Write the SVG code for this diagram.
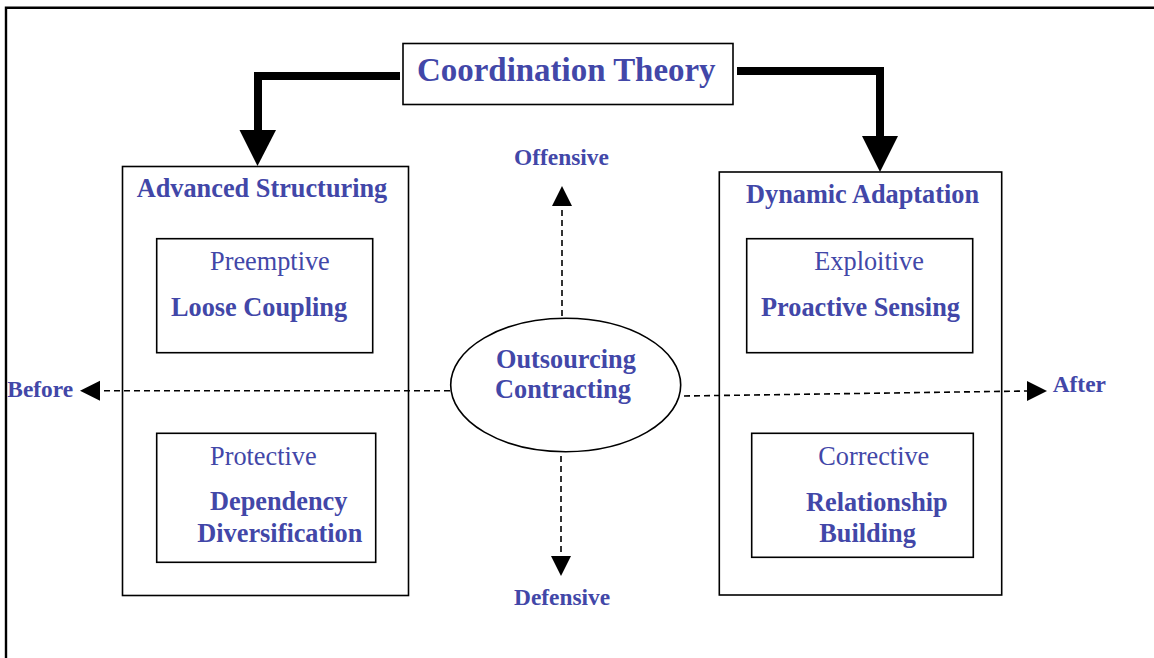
<svg xmlns="http://www.w3.org/2000/svg" width="1154" height="658" viewBox="0 0 1154 658">
<style>
.box{fill:none;stroke:#000;stroke-width:1.6}
.t{font-family:"Liberation Serif","Times New Roman",serif;fill:#4247a8}
.b{font-weight:bold}
.s{font-size:26.3px}
.l{font-size:23.4px;font-weight:bold}
.thick{fill:none;stroke:#000;stroke-width:8;stroke-linejoin:miter}
.dash{fill:none;stroke:#000;stroke-width:1.6;stroke-dasharray:6 4}
</style>
<rect width="1154" height="658" fill="#fff"/>
<path d="M6 658 V7.7 H1154" fill="none" stroke="#000" stroke-width="2.4"/>

<g id="connectors">
<path class="thick" d="M400 76 H258 V131"/>
<polygon points="239.5,130 276,130 257.5,166"/>
<path class="thick" d="M737 71 H880 V137"/>
<polygon points="862,136 898,136 880,172"/>
<path class="dash" d="M450 390.7 H100"/>
<polygon points="80,390.7 100,380.7 100,400.7"/>
<path class="dash" d="M684 396 L1027 391"/>
<polygon points="1047,391 1027,381 1027,401"/>
<path class="dash" d="M562 316 V206"/>
<polygon points="562,186 552,206 572,206"/>
<path class="dash" d="M561 456 V556"/>
<polygon points="561,576 551,556 571,556"/>
</g>

<g id="title">
<rect class="box" x="403" y="43.5" width="330" height="61" style="fill:#fff"/>
<text class="t b" x="417" y="81" font-size="34" textLength="298.6" lengthAdjust="spacingAndGlyphs">Coordination Theory</text>
</g>

<g id="advanced-structuring">
<rect class="box" x="122.5" y="166.5" width="286" height="429"/>
<text class="t b s" x="136.7" y="197.3">Advanced Structuring</text>
</g>
<g id="loose-coupling">
<rect class="box" x="156.7" y="238.7" width="216" height="114"/>
<text class="t s" x="210" y="270">Preemptive</text>
<text class="t b s" x="171" y="316">Loose Coupling</text>
</g>
<g id="dependency-diversification">
<rect class="box" x="156.7" y="433.3" width="219" height="129"/>
<text class="t s" x="210" y="465">Protective</text>
<text class="t b s" x="210" y="510">Dependency</text>
<text class="t b s" x="197.3" y="541.7">Diversification</text>
</g>

<g id="dynamic-adaptation">
<rect class="box" x="719.3" y="172" width="282.4" height="423"/>
<text class="t b s" x="746" y="202.7">Dynamic Adaptation</text>
</g>
<g id="proactive-sensing">
<rect class="box" x="746.7" y="238.7" width="226" height="114"/>
<text class="t s" x="814.3" y="270">Exploitive</text>
<text class="t b s" x="761" y="316">Proactive Sensing</text>
</g>
<g id="relationship-building">
<rect class="box" x="751.7" y="433.3" width="221.6" height="124"/>
<text class="t s" x="818.3" y="465">Corrective</text>
<text class="t b s" x="806" y="510.7">Relationship</text>
<text class="t b s" x="819.3" y="541.7">Building</text>
</g>

<g id="outsourcing">
<ellipse class="box" cx="565.7" cy="385" rx="115" ry="66.7" style="fill:#fff"/>
<text class="t b s" x="496" y="368.3">Outsourcing</text>
<text class="t b s" x="495" y="398.3">Contracting</text>
</g>

<g id="labels">
<text class="t l" x="514" y="165">Offensive</text>
<text class="t l" x="514" y="605">Defensive</text>
<text class="t l" x="7.3" y="397.3">Before</text>
<text class="t l" x="1052.7" y="392.3">After</text>
</g>
</svg>
